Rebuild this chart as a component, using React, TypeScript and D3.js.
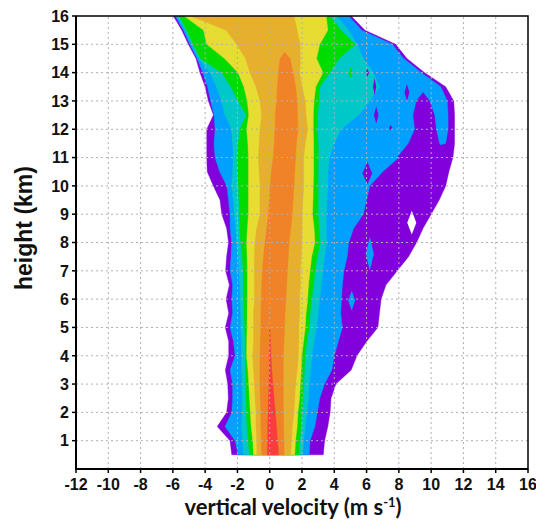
import React from 'react';
import * as d3 from 'd3';

// Heights (km) at which the contour band edges were read
const heights = [0.5, 1, 1.5, 2, 2.5, 3, 3.5, 4, 4.5, 5, 5.5, 6, 6.5, 7, 7.5, 8, 8.5, 9, 9.5, 10, 10.5, 11, 11.5, 12, 12.5, 13, 13.5, 14, 14.5, 15, 15.5, 16];

// Contour level edges (vertical velocity, m/s), outermost level first
const purpleLeft = [-2.35, -2.46, -3.25, -2.67, -2.56, -2.6, -2.75, -2.54, -2.54, -2.75, -2.54, -2.7, -2.5, -2.73, -2.67, -2.55, -2.67, -2.97, -3.08, -3.49, -3.87, -3.9, -3.9, -3.9, -3.49, -3.8, -4.0, -4.32, -4.57, -5.04, -5.45, -5.97];
const purpleRight = [3.32, 3.4, 3.6, 3.74, 3.8, 4.1, 5.05, 5.4, 6.0, 6.7, 6.8, 6.9, 7.2, 7.9, 8.6, 9.1, 9.5, 10.0, 10.5, 10.9, 11.1, 11.35, 11.45, 11.45, 11.45, 11.4, 10.9, 9.6, 8.5, 7.8, 5.9, 5.05];
const blueLeft = [-1.95, -2.15, -2.77, -2.35, -2.3, -2.3, -2.45, -2.15, -2.25, -2.45, -2.3, -2.35, -2.3, -2.45, -2.4, -2.36, -2.45, -2.46, -2.55, -2.66, -3.1, -3.39, -3.45, -3.39, -3.45, -3.66, -3.85, -4.15, -4.5, -4.95, -5.35, -5.85];
const blueRight = [2.45, 2.5, 2.8, 2.95, 3.1, 3.4, 3.85, 4.0, 4.25, 4.5, 4.4, 4.45, 4.5, 4.6, 4.8, 4.9, 5.2, 5.8, 6.0, 6.2, 7.0, 8.0, 10.9, 11.05, 11.05, 11.0, 10.6, 9.4, 8.3, 7.6, 5.7, 4.9];
const cyanLeft = [-1.63, -1.68, -1.75, -1.7, -1.7, -1.7, -1.73, -1.73, -1.75, -1.8, -1.8, -1.84, -1.85, -1.9, -1.95, -2.05, -2.1, -2.2, -2.25, -2.35, -2.3, -2.25, -2.3, -2.36, -2.77, -2.98, -3.3, -3.7, -4.4, -4.85, -5.25, -5.75];
const cyanRight = [2.04, 2.1, 2.2, 2.3, 2.4, 2.45, 2.55, 2.6, 2.75, 2.9, 3.0, 3.1, 3.2, 3.3, 3.4, 3.53, 3.5, 3.5, 3.55, 3.6, 3.6, 3.7, 4.0, 4.4, 5.5, 6.2, 6.8, 6.4, 5.8, 5.4, 4.9, 4.15];
const greenLeft = [-1.26, -1.32, -1.4, -1.45, -1.45, -1.5, -1.5, -1.53, -1.53, -1.55, -1.58, -1.6, -1.62, -1.65, -1.7, -1.8, -1.85, -1.88, -1.9, -1.94, -2.0, -2.04, -1.95, -1.84, -1.45, -1.95, -2.4, -2.97, -4.3, -4.75, -5.15, -5.6];
const greenRight = [1.8, 1.85, 1.95, 2.0, 2.05, 2.1, 2.15, 2.19, 2.3, 2.45, 2.5, 2.6, 2.7, 2.8, 2.95, 3.12, 3.05, 3.0, 3.0, 3.0, 3.0, 3.0, 3.0, 2.95, 2.95, 3.05, 3.1, 3.7, 4.3, 5.3, 4.4, 3.74];
const yellowLeft = [-1.0, -1.05, -1.15, -1.2, -1.25, -1.3, -1.35, -1.43, -1.42, -1.4, -1.4, -1.38, -1.38, -1.38, -1.4, -1.43, -1.38, -1.32, -1.32, -1.32, -1.32, -1.32, -1.35, -1.43, -1.3, -1.39, -1.6, -1.96, -2.8, -3.9, -4.1, -5.3];
const yellowRight = [1.55, 1.6, 1.7, 1.75, 1.85, 1.9, 1.95, 1.98, 2.1, 2.2, 2.25, 2.35, 2.4, 2.5, 2.6, 2.8, 2.75, 2.65, 2.68, 2.7, 2.72, 2.72, 2.72, 2.7, 2.7, 2.75, 2.85, 3.3, 2.9, 3.1, 3.6, 3.5];
const lightOrangeLeft = [-0.8, -0.8, -0.85, -0.85, -0.9, -0.95, -1.0, -1.05, -1.0, -1.0, -1.0, -0.95, -0.95, -0.95, -0.95, -0.91, -0.8, -0.6, -0.6, -0.6, -0.65, -0.7, -0.65, -0.6, -0.5, -0.6, -0.85, -1.22, -1.5, -2.05, -2.7, -4.9];
const lightOrangeRight = [1.3, 1.35, 1.4, 1.5, 1.55, 1.6, 1.7, 1.77, 1.8, 1.8, 1.85, 1.85, 1.9, 1.9, 1.95, 1.98, 2.0, 2.0, 2.05, 2.1, 2.1, 2.1, 2.2, 2.35, 2.25, 2.2, 2.0, 1.85, 1.9, 1.88, 1.7, 1.5];

const orangeHeights = [0.5, 1, 1.5, 2, 2.5, 3, 3.5, 4, 4.5, 5, 5.5, 6, 6.5, 7, 7.5, 8, 8.5, 9, 9.5, 10, 10.5, 11, 11.5, 12, 12.5, 13, 13.5, 14, 14.5, 14.7];
const orangeLeft = [-0.5, -0.52, -0.55, -0.55, -0.58, -0.6, -0.6, -0.6, -0.58, -0.55, -0.55, -0.52, -0.5, -0.45, -0.38, -0.29, -0.18, -0.08, -0.03, 0.02, 0.1, 0.22, 0.28, 0.33, 0.35, 0.43, 0.48, 0.54, 0.65, 0.9];
const orangeRight = [0.9, 0.88, 0.86, 0.85, 0.84, 0.84, 0.84, 0.84, 0.88, 0.92, 0.95, 1.0, 1.05, 1.1, 1.15, 1.2, 1.3, 1.4, 1.45, 1.5, 1.55, 1.6, 1.65, 1.75, 1.72, 1.7, 1.6, 1.45, 1.25, 0.95];

const redHeights = [0.5, 1, 1.5, 2, 2.5, 3, 3.5, 4, 4.5, 5];
const redLeft = [-0.15, -0.13, -0.12, -0.1, -0.07, -0.05, -0.03, -0.02, -0.01, 0];
const redRight = [0.56, 0.48, 0.42, 0.35, 0.27, 0.2, 0.13, 0.08, 0.04, 0.01];

// purple island inside the blue region (upper right)
const islandHeights = [11, 11.5, 12, 12.5, 13, 13.3];
const islandLeft = [7.9, 8.6, 9.0, 8.9, 9.1, 9.5];
const islandRight = [11.2, 10.5, 10.3, 10.2, 9.9, 9.5];

// small isolated patches: centre (v, h), half extents, level
const patchV = [6.05, 6.5, 6.6, 7.5, 8.5, 6.05, 5.0, 5.08, 6.2, 8.8, 6.4];
const patchH = [14.0, 13.5, 12.5, 12.05, 13.3, 10.45, 14.0, 5.95, 7.6, 8.7, 14.5];
const patchDV = [0.1, 0.1, 0.14, 0.1, 0.15, 0.3, 0.12, 0.22, 0.25, 0.28, 0.6];
const patchDH = [0.15, 0.3, 0.3, 0.1, 0.3, 0.4, 0.2, 0.35, 0.6, 0.42, 0.3];
const patchLevel = ['purple', 'purple', 'purple', 'purple', 'purple', 'purple', 'green', 'blue', 'blue', 'white', 'blue'];

const xTicks = [-12, -10, -8, -6, -4, -2, 0, 2, 4, 6, 8, 10, 12, 14, 16];
const yTicks = [1, 2, 3, 4, 5, 6, 7, 8, 9, 10, 11, 12, 13, 14, 15, 16];

const colors: Record<string, string> = {
  purple: '#8200DC',
  blue: '#00A0FF',
  cyan: '#00C8C8',
  green: '#00DC00',
  yellow: '#E6DC32',
  lightOrange: '#E6AF2D',
  orange: '#F08228',
  red: '#FA3C3C',
  white: '#FFFFFF',
};

const W = 536;
const H = 522;
const margin = { left: 76, right: 8, top: 16, bottom: 53 };

export default function App() {
  const x = d3.scaleLinear().domain([-12, 16]).range([margin.left, W - margin.right]);
  const y = d3.scaleLinear().domain([0, 16]).range([H - margin.bottom, margin.top]);
  const line = d3.line<[number, number]>().x((d) => x(d[0])).y((d) => y(d[1]));

  const band = (hs: number[], l: number[], r: number[]) => {
    const pts: [number, number][] = [];
    hs.forEach((h, i) => pts.push([l[i], h]));
    for (let i = hs.length - 1; i >= 0; i--) pts.push([r[i], hs[i]]);
    return (line(pts) || '') + 'Z';
  };

  const bands = [
    { key: 'purple', d: band(heights, purpleLeft, purpleRight) },
    { key: 'blue', d: band(heights, blueLeft, blueRight) },
    { key: 'purple', d: band(islandHeights, islandLeft, islandRight) },
    { key: 'cyan', d: band(heights, cyanLeft, cyanRight) },
    { key: 'green', d: band(heights, greenLeft, greenRight) },
    { key: 'yellow', d: band(heights, yellowLeft, yellowRight) },
    { key: 'lightOrange', d: band(heights, lightOrangeLeft, lightOrangeRight) },
    { key: 'orange', d: band(orangeHeights, orangeLeft, orangeRight) },
    { key: 'red', d: band(redHeights, redLeft, redRight) },
  ];

  const patches = patchV.map((v, i) => {
    const pts: [number, number][] = [
      [v - patchDV[i], patchH[i]],
      [v, patchH[i] + patchDH[i]],
      [v + patchDV[i], patchH[i]],
      [v, patchH[i] - patchDH[i]],
    ];
    return { key: patchLevel[i], d: (line(pts) || '') + 'Z' };
  });

  const x0 = x.range()[0];
  const x1 = x.range()[1];
  const y0 = y.range()[0];
  const y1 = y.range()[1];
  const tickFont = '"Liberation Sans", Arial, sans-serif';

  return (
    <svg width={W} height={H} style={{ position: 'absolute', left: 0, top: 0, background: '#fff' }}>
      <defs>
        <clipPath id="plotClip">
          <rect x={x0} y={y1} width={x1 - x0} height={y0 - y1} />
        </clipPath>
      </defs>
      <rect x={0} y={0} width={W} height={H} fill="#fff" />
      <g clipPath="url(#plotClip)">
        {bands.map((b, i) => (
          <path key={'b' + i} d={b.d} fill={colors[b.key]} stroke={colors[b.key]} strokeWidth={0.4} />
        ))}
        {patches.map((p, i) => (
          <path key={'p' + i} d={p.d} fill={colors[p.key]} />
        ))}
      </g>
      {/* grid */}
      <g stroke="#b0b0b0" strokeWidth={1} strokeDasharray="2,3">
        {xTicks.slice(1, -1).map((t) => (
          <line key={'gx' + t} x1={x(t)} x2={x(t)} y1={y0} y2={y1} />
        ))}
        {yTicks.slice(0, -1).map((t) => (
          <line key={'gy' + t} x1={x0} x2={x1} y1={y(t)} y2={y(t)} />
        ))}
      </g>
      {/* frame */}
      <rect x={x0} y={y1} width={x1 - x0} height={y0 - y1} fill="none" stroke="#000" strokeWidth={1.5} />
      <line x1={x0} x2={x0} y1={y1} y2={y0 + 1} stroke="#000" strokeWidth={2} />
      <line x1={x0 - 1} x2={x1} y1={y0} y2={y0} stroke="#000" strokeWidth={2} />
      {/* x ticks */}
      {xTicks.map((t) => (
        <g key={'xt' + t}>
          <line x1={x(t)} x2={x(t)} y1={y0} y2={y0 + 4} stroke="#000" strokeWidth={1.5} />
          <text x={x(t)} y={490} textAnchor="middle" fontFamily={tickFont} fontWeight="bold" fontSize={16} fill="#111">
            {t}
          </text>
        </g>
      ))}
      {/* y ticks */}
      {yTicks.map((t) => (
        <g key={'yt' + t}>
          <line x1={x0 - 4} x2={x0} y1={y(t)} y2={y(t)} stroke="#000" strokeWidth={1.5} />
          <text x={69} y={y(t)} dy="0.36em" textAnchor="end" fontFamily={tickFont} fontWeight="bold" fontSize={16} fill="#111">
            {t}
          </text>
        </g>
      ))}
      <text
        transform="translate(32,228) rotate(-90)"
        textAnchor="middle"
        fontFamily={tickFont}
        fontWeight="bold"
        fontSize={23}
        fill="#111"
      >
        height (km)
      </text>
      <text x={293} y={515} textAnchor="middle" fontFamily="Lato, 'Open Sans', sans-serif" fontWeight="bold" fontSize={22} fill="#111">
        vertical velocity (m s<tspan dy={-8} fontSize={13}>-1</tspan>
        <tspan dy={8}>)</tspan>
      </text>
    </svg>
  );
}
